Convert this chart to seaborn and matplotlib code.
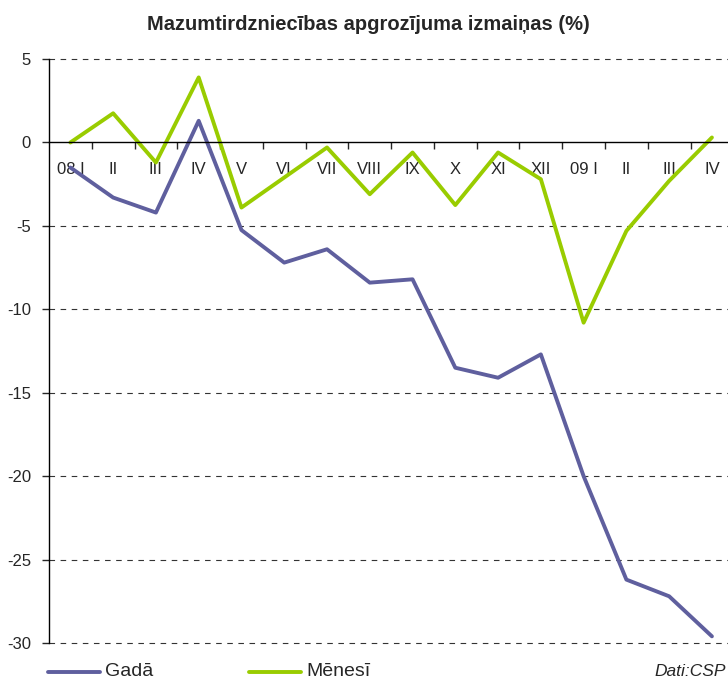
import pandas as pd
import matplotlib
matplotlib.use("Agg")
import matplotlib.pyplot as plt
import seaborn as sns

# months from 2008 I to 2009 IV
months = ["08 I", "II", "III", "IV", "V", "VI", "VII", "VIII", "IX", "X",
          "XI", "XII", "09 I", "II", "III", "IV"]

# change vs same month last year (%)
gada = [-1.5, -3.3, -4.2, 1.3, -5.25, -7.2, -6.4, -8.4, -8.2, -13.5,
        -14.1, -12.7, -20.0, -26.2, -27.2, -29.6]

# change vs previous month (%)
menesi = [0.0, 1.75, -1.2, 3.9, -3.9, -2.1, -0.3, -3.1, -0.6, -3.75,
          -0.6, -2.2, -10.8, -5.3, -2.3, 0.3]

series_names = ["Gadā", "Mēnesī"]
colors = ["#5f5f9e", "#99cc00"]

yticks = [5, 0, -5, -10, -15, -20, -25, -30]

sns.set_style("white")
plt.rcParams["font.family"] = ["Liberation Sans", "DejaVu Sans"]

# long-form table for seaborn
df = pd.DataFrame({
    "pos": list(range(len(months))) * 2,
    "value": gada + menesi,
    "series": [series_names[0]] * len(gada) + [series_names[1]] * len(menesi),
})

fig = plt.figure(figsize=(7.28, 6.79), dpi=100)
ax = fig.add_axes([0.0673, 0.053, 0.94, 0.86])

sns.lineplot(data=df, x="pos", y="value", hue="series",
             palette=colors, linewidth=2.8, sort=False, legend=False, ax=ax)

ax.set_xlim(-0.5, 15.5)
ax.set_ylim(-30, 5)

# dashed gridlines except the zero line (drawn by the axis)
for v in yticks:
    if v != 0:
        ax.axhline(v, color="#333333", linestyle=(0, (5, 5)), linewidth=0.8,
                   zorder=0, clip_on=False)

ax.spines["top"].set_visible(False)
ax.spines["right"].set_visible(False)
ax.spines["bottom"].set_position(("data", 0))
ax.spines["bottom"].set_color("black")
ax.spines["bottom"].set_linewidth(1.0)
ax.spines["left"].set_color("black")
ax.spines["left"].set_linewidth(1.0)

ax.set_yticks(yticks)
ax.set_yticklabels([str(v) for v in yticks], fontsize=12)
ax.tick_params(axis="y", direction="out", length=5, width=1, pad=8, left=True)

ax.set_xticks(range(len(months)))
ax.set_xticklabels(months, fontsize=12)
ax.tick_params(axis="x", which="major", length=0, pad=14)
ax.set_xticks([i + 0.5 for i in range(len(months) - 1)], minor=True)
ax.tick_params(axis="x", which="minor", direction="out", length=5, width=1, bottom=True)

ax.set_xlabel("")
ax.set_ylabel("")

fig.text(368 / 728, 1 - 25 / 679, "Mazumtirdzniecības apgrozījuma izmaiņas (%)",
         ha="center", va="center", fontsize=14.5, fontweight="bold")

# legend drawn at the bottom
legend_y = 1 - 672 / 679
for i, name in enumerate(series_names):
    x0 = 48 + i * 201
    fig.add_artist(plt.Line2D([x0 / 728, (x0 + 52) / 728], [legend_y] * 2,
                              color=colors[i], linewidth=2.8))
    fig.text((x0 + 57) / 728, legend_y, name, ha="left", va="center", fontsize=14)

fig.text(726 / 728, legend_y, "Dati:CSP", ha="right", va="center",
         fontsize=12.5, style="italic")

fig.savefig("out.png", dpi=100)
